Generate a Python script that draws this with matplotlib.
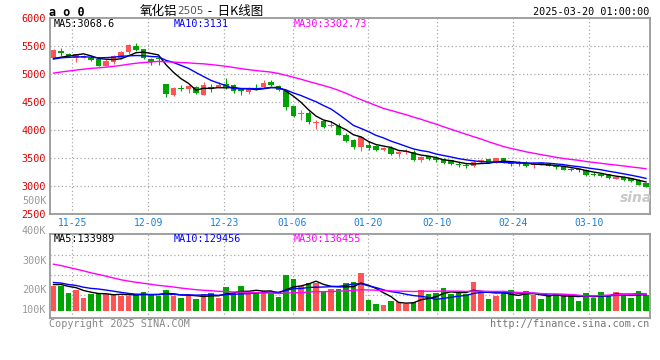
import matplotlib
matplotlib.use('Agg')
import matplotlib.pyplot as plt
import numpy as np

# ---------------- data ----------------
date_labels = ['11-25', '12-09', '12-23', '01-06', '01-20', '02-10', '02-24', '03-10']
date_idx = [3, 13, 23, 32, 42, 51, 61, 71]

opens = [5288, 5418, 5365, 5288, 5288, 5288, 5259, 5147, 5206, 5288,
         5388, 5500, 5441, 5259, 5294, 4818, 4618, 4747, 4735, 4776,
         4629, 4759, 4776, 4818, 4800, 4729, 4671, 4750, 4762, 4863,
         4780, 4702, 4423, 4286, 4304, 4131, 4155, 4065, 4077, 3917,
         3815, 3690, 3738, 3720, 3637, 3673, 3565, 3601, 3607, 3458,
         3530, 3500, 3482, 3458, 3398, 3380, 3356, 3446, 3476, 3416,
         3494, 3416, 3410, 3416, 3368, 3404, 3386, 3368, 3356, 3301,
         3295, 3283, 3223, 3211, 3211, 3133, 3163, 3145, 3115, 3055]
closes = [5435, 5371, 5318, 5353, 5324, 5253, 5147, 5241, 5324, 5394,
          5512, 5429, 5294, 5206, 5259, 4641, 4747, 4730, 4788, 4653,
          4806, 4735, 4806, 4759, 4700, 4688, 4735, 4720, 4839, 4804,
          4708, 4405, 4256, 4304, 4137, 4143, 4054, 4095, 3917, 3810,
          3696, 3869, 3679, 3649, 3673, 3571, 3601, 3619, 3458, 3512,
          3482, 3470, 3411, 3392, 3374, 3356, 3428, 3458, 3416, 3494,
          3416, 3392, 3392, 3356, 3398, 3380, 3362, 3338, 3283, 3283,
          3277, 3199, 3205, 3175, 3139, 3163, 3115, 3085, 3018, 2982]
highs = [5445, 5465, 5371, 5365, 5335, 5318, 5306, 5265, 5335, 5406,
         5541, 5547, 5453, 5288, 5324, 4818, 4776, 4806, 4800, 4788,
         4865, 4818, 4853, 4924, 4818, 4747, 4776, 4815, 4887, 4887,
         4810, 4720, 4423, 4363, 4333, 4185, 4173, 4155, 4125, 3946,
         3839, 3899, 3798, 3738, 3696, 3720, 3625, 3661, 3649, 3530,
         3535, 3542, 3494, 3470, 3428, 3404, 3458, 3476, 3482, 3500,
         3500, 3428, 3440, 3446, 3416, 3422, 3404, 3386, 3368, 3325,
         3320, 3295, 3247, 3235, 3217, 3187, 3187, 3151, 3121, 3061]
lows = [5282, 5318, 5306, 5218, 5282, 5229, 5135, 5135, 5182, 5276,
        5365, 5406, 5265, 5165, 5159, 4594, 4600, 4688, 4659, 4635,
        4618, 4676, 4747, 4735, 4659, 4618, 4647, 4708, 4750, 4780,
        4690, 4363, 4226, 4185, 4107, 4018, 4036, 4054, 3905, 3786,
        3661, 3631, 3649, 3619, 3619, 3554, 3518, 3565, 3440, 3423,
        3470, 3435, 3400, 3380, 3344, 3320, 3344, 3404, 3410, 3410,
        3404, 3356, 3356, 3344, 3326, 3368, 3350, 3308, 3277, 3265,
        3253, 3187, 3175, 3163, 3133, 3127, 3091, 3079, 3012, 2976]
volumes_k = [205, 203, 149, 170, 105, 135, 149, 140, 130, 122,
             122, 138, 154, 130, 122, 170, 122, 105, 122, 100,
             138, 149, 108, 194, 143, 203, 149, 149, 162, 149,
             113, 292, 259, 203, 227, 227, 162, 181, 181, 227,
             235, 308, 89, 57, 49, 81, 73, 57, 73, 170,
             138, 143, 186, 138, 143, 138, 235, 143, 97, 122,
             146, 170, 97, 162, 130, 97, 122, 138, 122, 122,
             81, 146, 105, 154, 130, 154, 138, 105, 162, 130]
# closes / volumes of the sessions before the first visible candle (for the MA lines)
prior_closes = [4780, 4800, 4830, 4850, 4820, 4860, 4880, 4900, 4870, 4890,
                4910, 4900, 4930, 4900, 4880, 4920, 4950, 4960, 4990, 4990,
                5150, 5230, 5280, 5300, 5320, 5260, 5210, 5250, 5230]
prior_volumes_k = [520, 610, 580, 540, 600, 560, 530, 590, 550,
                   450, 420, 400, 380, 390, 350, 330, 360, 320, 300,
                   280, 250, 270, 240, 250, 230, 200, 225, 220, 220]

price_ticks = [2500, 3000, 3500, 4000, 4500, 5000, 5500, 6000]
price_legend = ['MA5:3068.6', 'MA10:3131', 'MA30:3302.73']
vol_legend = ['MA5:133989', 'MA10:129456', 'MA30:136455']
vol_labels = ['100K', '200K', '300K', '400K']

# ---------------- helpers ----------------
W, H = 660, 360
fig = plt.figure(figsize=(6.6, 3.6), dpi=100)
fig.patch.set_facecolor('white')
MONO = 'DejaVu Sans Mono'
RED = '#ff5454'
GREEN = '#00a400'
GRID = '#a8a8a8'
BORDER = '#999999'


def px_axes(left, top, right, bottom):
    return fig.add_axes([left / W, 1 - bottom / H, (right - left) / W, (bottom - top) / H])


def ftext(x, y, s, **kw):
    fig.text(x / W, 1 - y / H, s, **kw)


def ma(vals, prior, n):
    allv = np.array(list(prior) + list(vals), dtype=float)
    out = np.convolve(allv, np.ones(n) / n, mode='valid')
    return out[-len(vals):]


n = len(closes)
x = np.arange(n)
o = np.array(opens, float)
c = np.array(closes, float)
hi = np.array(highs, float)
lo = np.array(lows, float)
up = c >= o
cols = np.where(up, RED, GREEN)

grid_x = np.array(date_idx) * 600 / 79 / 7.5 - 4 / 7.5
xlim = (-3.5 / 7.5, 596.5 / 7.5)

# ---------------- price panel ----------------
ax = px_axes(50, 18, 650, 214)
ax.set_xlim(*xlim)
ax.set_ylim(2500, 6000)
for yv in price_ticks[1:-1]:
    ax.axhline(yv, color=GRID, lw=0.9, ls=(0, (1, 2)), zorder=0)
for gx in grid_x:
    ax.axvline(gx, color=GRID, lw=0.9, ls=(0, (1, 2)), zorder=0)

ax.vlines(x, lo, hi, colors=cols, lw=0.8, zorder=2)
body_h = np.maximum(np.abs(c - o), 18)
ax.bar(x, body_h, bottom=np.minimum(o, c), width=0.76, color=cols, lw=0, zorder=3)

ax.plot(x, ma(closes, prior_closes, 5), color='black', lw=1.0, zorder=4)
ax.plot(x, ma(closes, prior_closes, 10), color='#0000ff', lw=1.0, zorder=4)
ax.plot(x, ma(closes, prior_closes, 30), color='#ff00ff', lw=1.0, zorder=4)

ax.set_yticks(price_ticks)
ax.set_yticklabels([str(t) for t in price_ticks], color='#e00000', family=MONO, fontsize=7.3)
ax.tick_params(axis='y', length=0, pad=3)
ax.set_xticks(grid_x)
ax.set_xticklabels(date_labels, color='#1a7fd4', family=MONO, fontsize=7.0)
ax.tick_params(axis='x', length=0, pad=3)
for s in ax.spines.values():
    s.set_color(BORDER)
    s.set_linewidth(1.3)

ftext(636, 198, 'sina', color='#c8c8c8', fontsize=10, fontweight='bold', style='italic',
      ha='center', va='center', family='DejaVu Sans')

# ---------------- volume panel ----------------
K_PER_PX = 8.1
axv = px_axes(50, 234, 650, 318)
axv.set_xlim(*xlim)
axv.set_ylim(-7 * K_PER_PX, 77 * K_PER_PX)
for ypx in (255.3, 275.3, 295.3):
    axv.axhline((311 - ypx) * K_PER_PX, color=GRID, lw=0.9, ls=(0, (1, 2)), zorder=0)
for gx in grid_x:
    axv.axvline(gx, color=GRID, lw=0.9, ls=(0, (1, 2)), zorder=0)
axv.bar(x, volumes_k, width=0.78, color=cols, lw=0, zorder=2)
axv.plot(x, ma(volumes_k, prior_volumes_k, 5), color='black', lw=1.0, zorder=4)
axv.plot(x, ma(volumes_k, prior_volumes_k, 10), color='#0000ff', lw=1.0, zorder=4)
axv.plot(x, ma(volumes_k, prior_volumes_k, 30), color='#ff00ff', lw=1.0, zorder=4)
axv.set_xticks([])
axv.set_yticks([])
for s in axv.spines.values():
    s.set_color(BORDER)
    s.set_linewidth(1.3)

# ---------------- texts ----------------
tk = dict(family=MONO, fontsize=7.3, va='center')
for lab, ypx in zip(vol_labels, (310, 290, 261, 231)):
    ftext(46.5, ypx, lab, color='#9a9a9a', ha='right', **tk)
ftext(46.5, 200.5, '500K', color='#9a9a9a', ha='right', **tk)

for lab, xx, colr in zip(price_legend, (54, 174, 294), ('black', '#0000ff', '#ff00ff')):
    ftext(xx, 24, lab, color=colr, ha='left', **tk)
for lab, xx, colr in zip(vol_legend, (54, 174, 294), ('black', '#0000ff', '#ff00ff')):
    ftext(xx, 238.5, lab, color=colr, ha='left', **tk)

ftext(49, 12, 'a o 0', color='black', ha='left', va='center', family=MONO,
      fontsize=8.5, fontweight='bold')
ftext(140, 11, '氧化铝', color='black', ha='left', va='center',
      family=['Noto Sans CJK SC', 'DejaVu Sans'], fontsize=9)
ftext(177, 11.5, '2505', color='#555555', ha='left', va='center', family='DejaVu Sans', fontsize=7.5)
ftext(205, 11, ' -  日K线图', color='black', ha='left', va='center',
      family=['Noto Sans CJK SC', 'DejaVu Sans'], fontsize=9)
ftext(649, 12, '2025-03-20 01:00:00', color='black', ha='right', **tk)

ftext(49, 324, 'Copyright 2025 SINA.COM', color='#888888', ha='left', **tk)
ftext(649, 324, 'http://finance.sina.com.cn', color='#777777', ha='right', **tk)

fig.savefig('out.png', dpi=100, facecolor='white')
